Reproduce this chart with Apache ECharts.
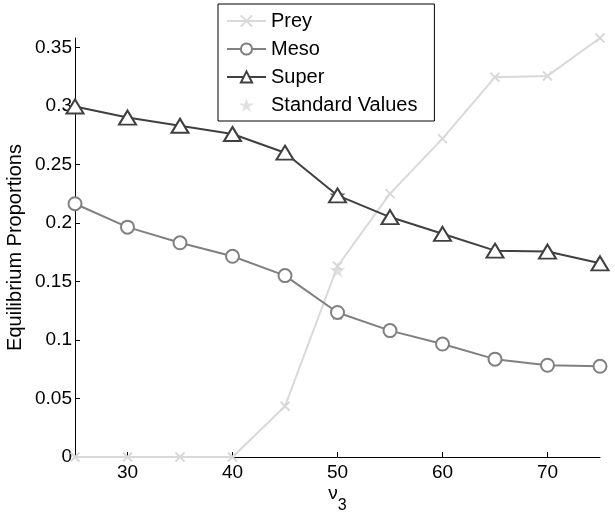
<!DOCTYPE html>
<html><head><meta charset="utf-8">
<script src="https://cdn.jsdelivr.net/npm/echarts@6/dist/echarts.min.js"></script>
<style>html,body{margin:0;padding:0;background:#fff}#c{width:615px;height:515px}</style>
</head><body><div id="c"></div>
<script>
const xValues = [25, 30, 35, 40, 45, 50, 55, 60, 65, 70, 75];
const prey  = [0, 0, 0, 0, 0.0434, 0.163, 0.225, 0.272, 0.3245, 0.3256, 0.358];
const meso  = [0.2164, 0.1964, 0.183, 0.1715, 0.155, 0.1235, 0.108, 0.0965, 0.0836, 0.0784, 0.0775];
const superP = [0.2995, 0.290, 0.283, 0.276, 0.260, 0.2235, 0.205, 0.1907, 0.1763, 0.1755, 0.1655];
const standardX = 50;
const standardY = [0.160, 0.1235, 0.2235];
const yTicks = [0, 0.05, 0.1, 0.15, 0.2, 0.25, 0.3, 0.35];
const xTicks = [30, 40, 50, 60, 70];

const cPrey = '#d9d9d9', cMeso = '#808080', cSuper = '#404040';
const crossPath = 'path://M0,0L10,10M10,0L0,10';
const starPath = 'path://M50,0L61,35L98,35L68,57L79,91L50,70L21,91L32,57L2,35L39,35Z';
const font = 'Liberation Sans, Arial, sans-serif';
const pairs = a => xValues.map((x, i) => [x, a[i]]);

const chart = echarts.init(document.getElementById('c'), null, {renderer: 'canvas'});
chart.setOption({
  animation: false,
  backgroundColor: '#fff',
  grid: {left: 75, right: 15, top: 38, bottom: 58, containLabel: false, outerBoundsMode: 'none'},
  legend: {
    orient: 'vertical', left: 218, top: 4,
    data: ['Prey', 'Meso', 'Super', 'Standard Values'],
    itemWidth: 39, itemHeight: 14, itemGap: 8,
    padding: [7, 17, 6, 8],
    borderColor: '#000', borderWidth: 1, backgroundColor: '#fff',
    textStyle: {fontFamily: font, fontSize: 20, color: '#000'}
  },
  xAxis: {
    type: 'value', min: 25, max: 75,
    axisLine: {onZero: false, lineStyle: {color: '#000', width: 1}},
    axisTick: {inside: true, length: 5, customValues: xTicks, lineStyle: {color: '#000'}},
    axisLabel: {customValues: xTicks, fontFamily: font, fontSize: 19, color: '#000', margin: 6},
    splitLine: {show: false},
    name: '{a|ν}{sub|3}', nameLocation: 'middle', nameGap: 27, nameMoveOverlap: false,
    nameTextStyle: {fontFamily: font, fontSize: 19, color: '#000', verticalAlign: 'top',
      rich: {
        a: {fontFamily: font, fontSize: 19, color: '#000', lineHeight: 30, verticalAlign: 'top'},
        sub: {fontFamily: font, fontSize: 16, color: '#000', lineHeight: 30, verticalAlign: 'bottom'}
      }}
  },
  yAxis: {
    type: 'value', min: 0, max: 0.358,
    axisLine: {show: true, lineStyle: {color: '#000', width: 1}},
    axisTick: {show: true, inside: true, length: 5, customValues: yTicks, lineStyle: {color: '#000'}},
    axisLabel: {customValues: yTicks, fontFamily: font, fontSize: 19, color: '#000', margin: 3},
    splitLine: {show: false},
    name: 'Equilibrium Proportions', nameLocation: 'middle', nameGap: 50, nameMoveOverlap: false,
    nameTextStyle: {fontFamily: font, fontSize: 20, color: '#000'}
  },
  series: [
    {name: 'Prey', type: 'line', data: pairs(prey), clip: false,
      symbol: crossPath, symbolSize: 9,
      lineStyle: {color: cPrey, width: 2},
      itemStyle: {color: cPrey, borderColor: cPrey, borderWidth: 2}},
    {name: 'Meso', type: 'line', data: pairs(meso), clip: false,
      symbol: 'emptyCircle', symbolSize: 13,
      lineStyle: {color: cMeso, width: 2},
      itemStyle: {color: cMeso, borderColor: cMeso, borderWidth: 2}},
    {name: 'Super', type: 'line', data: pairs(superP), clip: false,
      symbol: 'emptyTriangle', symbolSize: [17, 14],
      lineStyle: {color: cSuper, width: 2},
      itemStyle: {color: cSuper, borderColor: cSuper, borderWidth: 2}},
    {name: 'Standard Values', type: 'scatter', clip: false,
      symbol: starPath, symbolSize: 16,
      itemStyle: {color: cPrey},
      data: [
        {value: [standardX, standardY[0]], itemStyle: {color: cPrey}},
        {value: [standardX, standardY[1]], itemStyle: {color: cMeso}},
        {value: [standardX, standardY[2]], itemStyle: {color: cSuper}}
      ]}
  ]
});
</script></body></html>
